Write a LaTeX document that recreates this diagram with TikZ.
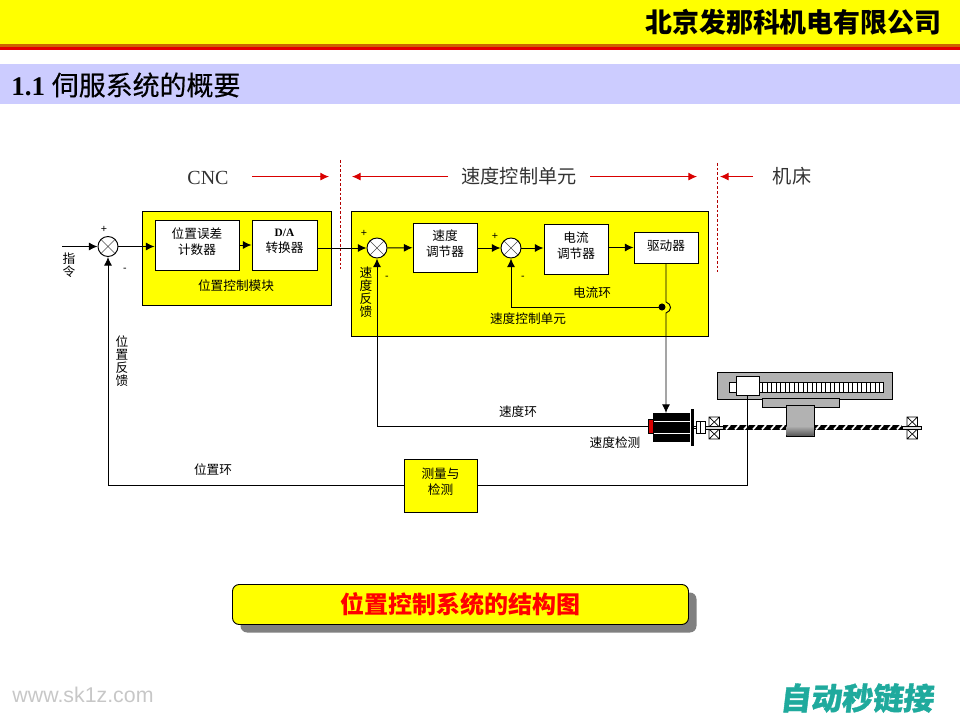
\documentclass[tikz,border=0pt]{standalone}
\usepackage{fontspec}
\usepackage{xcolor}
\usetikzlibrary{shadows,arrows.meta}
\setmainfont{Liberation Serif}
\newfontfamily\cjk{Noto Sans CJK SC}
\newfontfamily\cjkmid[FakeBold=0.4]{Noto Sans CJK SC}
\newfontfamily\logofont[BoldFeatures={FakeBold=1.2}]{Noto Sans CJK SC}
\newfontfamily\webfont{Liberation Sans}
\newcommand\boxtail{\\[-6pt]\mbox{}}
\definecolor{pureyellow}{RGB}{255,255,0}
\definecolor{purered}{RGB}{255,0,0}
\definecolor{barblue}{HTML}{CCCCFF}
\definecolor{tablegray}{HTML}{B2B2B2}
\definecolor{marklogo}{HTML}{1FAA9D}
\tikzset{
  blockbox/.style={draw,fill=white,align=center,inner sep=0pt,font=\cjk\fontsize{9.5}{12}\selectfont},
  modulebox/.style={draw,fill=pureyellow,inner sep=0pt},
  sumnode/.style={draw,circle,fill=white,minimum size=15pt,inner sep=0pt,
    path picture={\draw[black!70,line width=0.5pt] (path picture bounding box.north west) -- (path picture bounding box.south east)
      (path picture bounding box.north east) -- (path picture bounding box.south west);}},
  labeltext/.style={align=center,inner sep=0pt,font=\cjk\fontsize{9.5}{9.75}\selectfont},
  signtext/.style={inner sep=0pt,font=\webfont\fontsize{8}{8}\selectfont},
  zonetext/.style={inner sep=0pt,text=black!80,font=\cjk\fontsize{14.4}{14.4}\selectfont},
  zonearrow/.style={red!85!black,line width=0.75pt,->},
  zoneline/.style={red!70!black,line width=0.6pt,dash pattern=on 2pt off 1.5pt},
  >={Latex[length=6.5pt,width=6pt]},
}
\begin{document}
\begin{tikzpicture}[x=0.75pt,y=-0.75pt,line width=0.7pt]
\useasboundingbox (0,0) rectangle (960,720);
% header
\fill[pureyellow] (0,0) rectangle (960,44);
\fill[orange!80!black] (0,44) rectangle (960,47);
\fill[purered!90!black] (0,47) rectangle (960,50);
\fill[barblue] (0,64) rectangle (960,104);
\node[anchor=east,inner sep=0pt,font=\cjk\bfseries\fontsize{20.2}{20}\selectfont] (company) at (942,22) {北京发那科机电有限公司};
\node[anchor=west,inner sep=0pt,font=\bfseries\fontsize{20.2}{20}\selectfont] (heading) at (11,85) {1.1 {\cjkmid\mdseries 伺服系统的概要}};

% zones
\node[inner sep=0pt,text=black!80,font=\fontsize{15}{15}\selectfont] (cnc) at (208,178) {CNC};
\node[zonetext] (speedzone) at (519,176) {速度控制单元};
\node[zonetext] (machine) at (792,176) {机床};
\coordinate (cncend) at (252,176.6);
\coordinate (lineA) at (340,160);
\coordinate (lineAend) at (340,269);
\coordinate (lineB) at (717,163);
\coordinate (lineBend) at (717,272);
\draw[zoneline] (lineA) -- (lineAend);
\draw[zoneline] (lineB) -- (lineBend);
\draw[zonearrow] (cncend) -- (329,176.6);
\draw[zonearrow] (448,176.6) -- (352,176.6);
\draw[zonearrow] (590,176.6) -- (697,176.6);
\draw[zonearrow] (753,176.6) -- (720,176.6);

% control blocks
\node[modulebox,minimum width=141.75pt,minimum height=70.5pt] (posmodule) at (236.5,258) {};
\node[modulebox,minimum width=267.75pt,minimum height=93.75pt] (speedmodule) at (529.5,273.5) {};
\node[sumnode] (sumpos) at (108,246.5) {};
\node[blockbox,minimum width=63pt,minimum height=37.5pt] (poserror) at (197,245) {位置误差\\计数器\boxtail};
\node[blockbox,minimum width=48.75pt,minimum height=37.5pt] (daconv) at (284.5,245) {{\fontsize{8.5}{12}\selectfont\rmfamily\bfseries D/A}\\转换器\boxtail};
\node[sumnode] (sumspeed) at (377,248) {};
\node[blockbox,minimum width=48pt,minimum height=36.75pt] (speedreg) at (445,247.5) {速度\\调节器\boxtail};
\node[sumnode] (sumcurrent) at (511,248) {};
\node[blockbox,minimum width=48pt,minimum height=37.5pt] (currentreg) at (576,249) {电流\\调节器\boxtail};
\node[draw,fill=white,inner sep=0pt,font=\cjk\fontsize{9.5}{12}\selectfont,minimum width=48pt,minimum height=23.25pt,text depth=3pt] (drive) at (666,247.5) {驱动器};
\node[draw,circle,fill,inner sep=0pt,minimum size=4.5pt] (currentdot) at (662,307) {};
\node[blockbox,fill=pureyellow,minimum width=54.75pt,minimum height=39.75pt] (measure) at (440.5,485.5) {测量与\\检测\boxtail};

% mechanics
\fill (723,425) rectangle (902,429.5);
\foreach \x in {726,735,...,900}
  \draw[white,line width=1.3pt] (\x,429.5) -- (\x+4,425);
\foreach \x in {709,907}
  \foreach \y in {417,429}
    \draw[fill=white,line width=0.5pt] (\x,\y) rectangle (\x+10.5,\y+10) (\x,\y) -- (\x+10.5,\y+10) (\x+10.5,\y) -- (\x,\y+10);
\draw[fill=white,line width=0.5pt] (691,426.5) rectangle (696,428);
\draw[fill=tablegray!50,line width=0.5pt] (705,426) rectangle (723,429.5);
\draw[fill=tablegray!50,line width=0.5pt] (902,426) rectangle (921,429.5);
\draw[fill=white,line width=0.6pt] (696,421) rectangle (705,433);
\draw[line width=0.6pt] (700.5,421) -- (700.5,433);
\draw[fill=tablegray] (717,372) rectangle (892,399);
\draw[fill=white,line width=0.6pt] (729,382) rectangle (883,392);
\foreach \x in {762.5,767,...,883}
  \draw[line width=0.5pt] (\x,382) -- (\x,392);
\draw[fill=tablegray] (762,398) rectangle (839,407);
\draw[fill=tablegray] (786,405) rectangle (814,436);
\shade[top color=tablegray,bottom color=black!65] (786.5,426) rectangle (813.5,435.5);
\node[draw,fill=white,inner sep=0pt,minimum width=17.25pt,minimum height=14.25pt] (head) at (747.5,385.5) {};
\fill (653,413) rectangle (690,442);
\draw[white] (653,421) -- (690,421) (653,433) -- (690,433);
\fill (691,409) rectangle (694,446);
\node[draw=black,fill=purered!85!black,inner sep=0pt,minimum width=3.75pt,minimum height=10.5pt] (tacho) at (650.5,426) {};

% signal lines
\coordinate (cmdin) at (62,246.5);
\coordinate (bumptop) at (666,302);
\coordinate (bumpend) at (666,313);
\coordinate (motorin) at (666,413);
\draw[->] (cmdin) -- (sumpos);
\draw[->] (sumpos) -- (poserror.west |- sumpos);
\draw[->] (poserror) -- (daconv);
\draw[->] (daconv.east |- sumspeed) -- (sumspeed);
\draw[->] (sumspeed) -- (speedreg);
\draw[->] (speedreg.east |- sumcurrent) -- (sumcurrent);
\draw[->] (sumcurrent) -- (currentreg.west |- sumcurrent);
\draw[->] (currentreg.east |- drive) -- (drive);
\draw[->] (drive) -- (bumptop) .. controls (672,304) and (672,311) .. (bumpend) -- (motorin);
\draw[->] (currentdot) -| (sumcurrent);
\draw[->] (tacho) -| (sumspeed);
\draw (head) |- (measure);
\draw[->] (measure) -| (sumpos);

% labels
\node[labeltext] (cmdtext) at (69,265) {指\\令};
\node[labeltext] (posfb) at (122,361) {位\\置\\反\\馈};
\node[labeltext] (speedfb) at (366,292) {速\\度\\反\\馈};
\node[labeltext] (posmodtext) at (236,286) {位置控制模块};
\node[labeltext] (currenttext) at (592,293) {电流环};
\node[labeltext] (speedmodtext) at (528,319) {速度控制单元};
\node[labeltext] (speedloop) at (518,412) {速度环};
\node[labeltext] (speeddet) at (615,443) {速度检测};
\node[labeltext] (posloop) at (213,470) {位置环};
\node[signtext] (plusA) at (104,229) {+};
\node[signtext] (minusA) at (125,270) {-};
\node[signtext] (plusB) at (364,233) {+};
\node[signtext] (minusB) at (387,278) {-};
\node[signtext] (plusC) at (495,236) {+};
\node[signtext] (minusC) at (523,278) {-};

% caption and marks
\node[draw,fill=pureyellow,rounded corners=5pt,minimum width=342pt,minimum height=30pt,inner sep=0pt,text=purered,
  font=\cjk\bfseries\fontsize{18}{18}\selectfont,
  drop shadow={shadow xshift=6pt,shadow yshift=-6pt,fill=gray,opacity=1}] (caption) at (460.5,604.5) {位置控制系统的结构图};
\node[anchor=west,inner sep=0pt,text=black!22,font=\webfont\fontsize{16}{16}\selectfont] (website) at (12,695) {www.sk1z.com};
\node[anchor=east,inner sep=0pt,text=marklogo,xslant=0.12,font=\logofont\bfseries\fontsize{23}{23}\selectfont] (logo) at (935,698) {自动秒链接};
\end{tikzpicture}
\end{document}
